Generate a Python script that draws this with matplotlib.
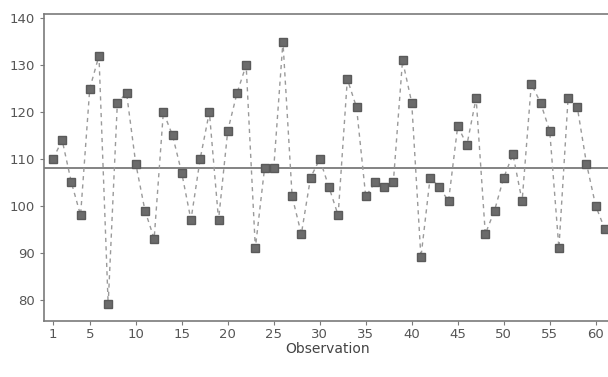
import numpy as np
import matplotlib
matplotlib.use("Agg")
import matplotlib.pyplot as plt

observations = list(range(1, 62))
values = [110, 114, 105, 98, 125, 132, 79, 122, 124, 109,
          99, 93, 120, 115, 107, 97, 110, 120, 97, 116,
          124, 130, 91, 108, 108, 135, 102, 94, 106, 110,
          104, 98, 127, 121, 102, 105, 104, 105, 131, 122,
          89, 106, 104, 101, 117, 113, 123, 94, 99, 106,
          111, 101, 126, 122, 116, 91, 123, 121, 109, 100,
          95]
x_ticks = [1, 5, 10, 15, 20, 25, 30, 35, 40, 45, 50, 55, 60]
y_ticks = [80, 90, 100, 110, 120, 130, 140]

# run chart: centre line at the median
center = np.median(values)

fig = plt.figure(figsize=(6.08, 3.77), dpi=100)
ax = fig.add_axes([0.072, 0.149, 0.935, 0.814])

ax.plot(observations, values, color="#9a9a9a", linestyle=(0, (3, 3)), linewidth=1.0, zorder=2)
ax.plot(observations, values, linestyle="none", marker="s", markersize=6.3,
        markerfacecolor="#6b6b6b", markeredgecolor="#5a5a5a", zorder=3)
ax.axhline(center, color="#7a7a7a", linewidth=1.3, zorder=1)

ax.set_xlim(0.0, 61.8)
ax.set_ylim(75.5, 140.9)
ax.set_xticks(x_ticks)
ax.set_yticks(y_ticks)

for side in ["left", "bottom", "top"]:
    ax.spines[side].set_color("#7a7a7a")
    ax.spines[side].set_linewidth(1.2)
ax.spines["right"].set_visible(False)

ax.tick_params(axis="both", colors="#7a7a7a", labelcolor="#555555", labelsize=9.5, length=3)
ax.tick_params(axis="x", pad=2)
ax.set_xlabel("Observation", fontsize=10, color="#444444", labelpad=1)

fig.savefig("out.png", dpi=100)
